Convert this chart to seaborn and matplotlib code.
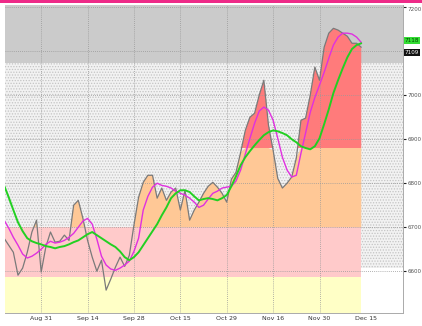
import numpy as np
import pandas as pd
import matplotlib
matplotlib.use("Agg")
import matplotlib.pyplot as plt
import seaborn as sns

price = [6675, 6659, 6643, 6591, 6607, 6643, 6689, 6716, 6598, 6655,
         6689, 6666, 6668, 6682, 6670, 6750, 6761, 6720, 6670, 6632,
         6600, 6625, 6557, 6582, 6609, 6632, 6611, 6636, 6705, 6768,
         6802, 6818, 6818, 6766, 6789, 6761, 6780, 6789, 6739, 6784,
         6716, 6739, 6757, 6777, 6793, 6802, 6791, 6777, 6757, 6809,
         6825, 6870, 6920, 6950, 6959, 7000, 7034, 6932, 6875, 6811,
         6789, 6800, 6814, 6857, 6943, 6948, 7000, 7064, 7034, 7109,
         7141, 7152, 7148, 7141, 7134, 7118, 7118, 7109]
ma_fast = [6716, 6698, 6677, 6659, 6639, 6630, 6634, 6641, 6650, 6661,
           6668, 6664, 6666, 6670, 6677, 6686, 6700, 6714, 6720, 6707,
           6673, 6634, 6614, 6605, 6602, 6607, 6614, 6623, 6645, 6675,
           6739, 6770, 6791, 6800, 6795, 6793, 6789, 6782, 6777, 6773,
           6766, 6757, 6745, 6750, 6764, 6777, 6782, 6789, 6791, 6793,
           6805, 6830, 6866, 6902, 6936, 6964, 6973, 6966, 6943, 6902,
           6859, 6830, 6814, 6818, 6868, 6914, 6961, 6995, 7023, 7052,
           7084, 7114, 7132, 7141, 7141, 7139, 7132, 7120]
ma_slow = [6795, 6768, 6739, 6711, 6691, 6675, 6668, 6664, 6661, 6657,
           6655, 6652, 6655, 6657, 6661, 6666, 6670, 6677, 6684, 6689,
           6682, 6675, 6668, 6661, 6655, 6645, 6632, 6625, 6632, 6643,
           6659, 6675, 6691, 6707, 6727, 6745, 6766, 6777, 6784, 6784,
           6780, 6770, 6761, 6764, 6766, 6764, 6761, 6766, 6773, 6793,
           6816, 6841, 6859, 6873, 6886, 6898, 6909, 6916, 6920, 6918,
           6914, 6909, 6900, 6893, 6884, 6880, 6877, 6884, 6902, 6934,
           6968, 7005, 7034, 7061, 7086, 7105, 7114, 7118]
x_labels = ["Aug 31", "Sep 14", "Sep 28", "Oct 15", "Oct 29", "Nov 16", "Nov 30", "Dec 15"]
x_label_pos = [8, 18, 28, 38, 48, 58, 68, 78]
y_ticks = [6600, 6700, 6800, 6900, 7000, 7100, 7200]
y_tick_labels = ["6600", "6700", "6800", "6900", "7000", "", "7200"]
zone_edges = [6505, 6586, 6700, 6880, 7073, 7205]

df = pd.DataFrame({"idx": np.arange(len(price)), "price": price,
                   "fast": ma_fast, "slow": ma_slow})

sns.set_style("white")
plt.rcParams['font.family'] = ['DejaVu Sans']
plt.rcParams['hatch.linewidth'] = 0.6

fig = plt.figure(figsize=(4.22, 3.26), dpi=100)
ax = fig.add_axes([5/422, 1-313/326, 398/422, 308/326])
ax.set_xlim(0.2, 86)
ax.set_ylim(zone_edges[0], zone_edges[-1])

x = df["idx"].to_numpy()
p = df["price"].to_numpy()
x0, x1 = x[0], x[-1]

# backgrounds
ax.axhspan(zone_edges[4], zone_edges[5], color="#cbcbcb", lw=0, zorder=0)
ax.fill_between([0.2, 86], 6608, zone_edges[4], facecolor="#f2f2f2",
                hatch="......", edgecolor="#c4c4c4", lw=0, zorder=0)
# zone fills
ax.fill_between([x0, x1], zone_edges[0], zone_edges[1], color="#ffffc6", lw=0, zorder=1)
ax.fill_between([x0, x1], zone_edges[1], zone_edges[2], color="#ffcaca", lw=0, zorder=1)
ax.fill_between(x, zone_edges[2], np.minimum(p, zone_edges[3]), where=p > zone_edges[2],
                interpolate=True, color="#ffc896", lw=0, zorder=1)
ax.fill_between(x, zone_edges[3], p, where=p > zone_edges[3],
                interpolate=True, color="#ff7b7b", lw=0, zorder=1)

# grid
for xp in x_label_pos[:-1]:
    ax.axvline(xp, color="#999999", lw=0.6, ls=(0, (1, 1.5)), zorder=2)
for yp in y_ticks:
    ax.axhline(yp, color="#999999", lw=0.6, ls=(0, (1, 1.5)), zorder=2)

sns.lineplot(data=df, x="idx", y="price", color="#7a7a7a", lw=0.9, ax=ax, zorder=3)
sns.lineplot(data=df, x="idx", y="fast", color="#e030e0", lw=1.0, ax=ax, zorder=4)
sns.lineplot(data=df, x="idx", y="slow", color="#22d022", lw=1.4, ax=ax, zorder=5)

ax.set_xlabel("")
ax.set_ylabel("")
ax.set_xticks(x_label_pos)
ax.set_xticklabels(x_labels, fontsize=4.5, color="#333333")
ax.yaxis.tick_right()
ax.set_yticks(y_ticks)
ax.set_yticklabels(y_tick_labels, fontsize=4.1, color="#333333")
ax.tick_params(axis="y", direction="out", length=2.2, width=0.8, pad=0.8, colors="#222222")
ax.tick_params(axis="x", length=0, pad=2)
for lab in ax.get_yticklabels():
    lab.set_color("#555555")
ax.get_yticklabels()[-1].set_verticalalignment("top")
for s in ax.spines.values():
    s.set_visible(False)
ax.spines["right"].set_visible(True)
ax.spines["right"].set_color("#aaaaaa")
ax.spines["right"].set_linestyle((0, (1, 1)))
ax.spines["right"].set_linewidth(0.7)
ax.spines["bottom"].set_visible(True)
ax.spines["bottom"].set_color("#aaaaaa")
ax.spines["bottom"].set_linestyle((0, (1, 1)))
ax.spines["bottom"].set_linewidth(0.7)

# value tags
ax.text(1.004, ma_slow[-1] + 6, str(ma_slow[-1]), transform=ax.get_yaxis_transform(),
        fontsize=4.1, color="#004400", va="center", ha="left",
        bbox=dict(boxstyle="square,pad=0.15", fc="#33dd33", ec="none"))
ax.text(1.004, price[-1] - 12, str(price[-1]), transform=ax.get_yaxis_transform(),
        fontsize=4.1, color="white", va="center", ha="left",
        bbox=dict(boxstyle="square,pad=0.15", fc="#111111", ec="none"))

# top border strip
fig.patches.append(plt.Rectangle((0, 1-3/326), 1, 3/326, transform=fig.transFigure,
                                 color="#ee2a88", lw=0))

fig.savefig("out.png", dpi=100)
